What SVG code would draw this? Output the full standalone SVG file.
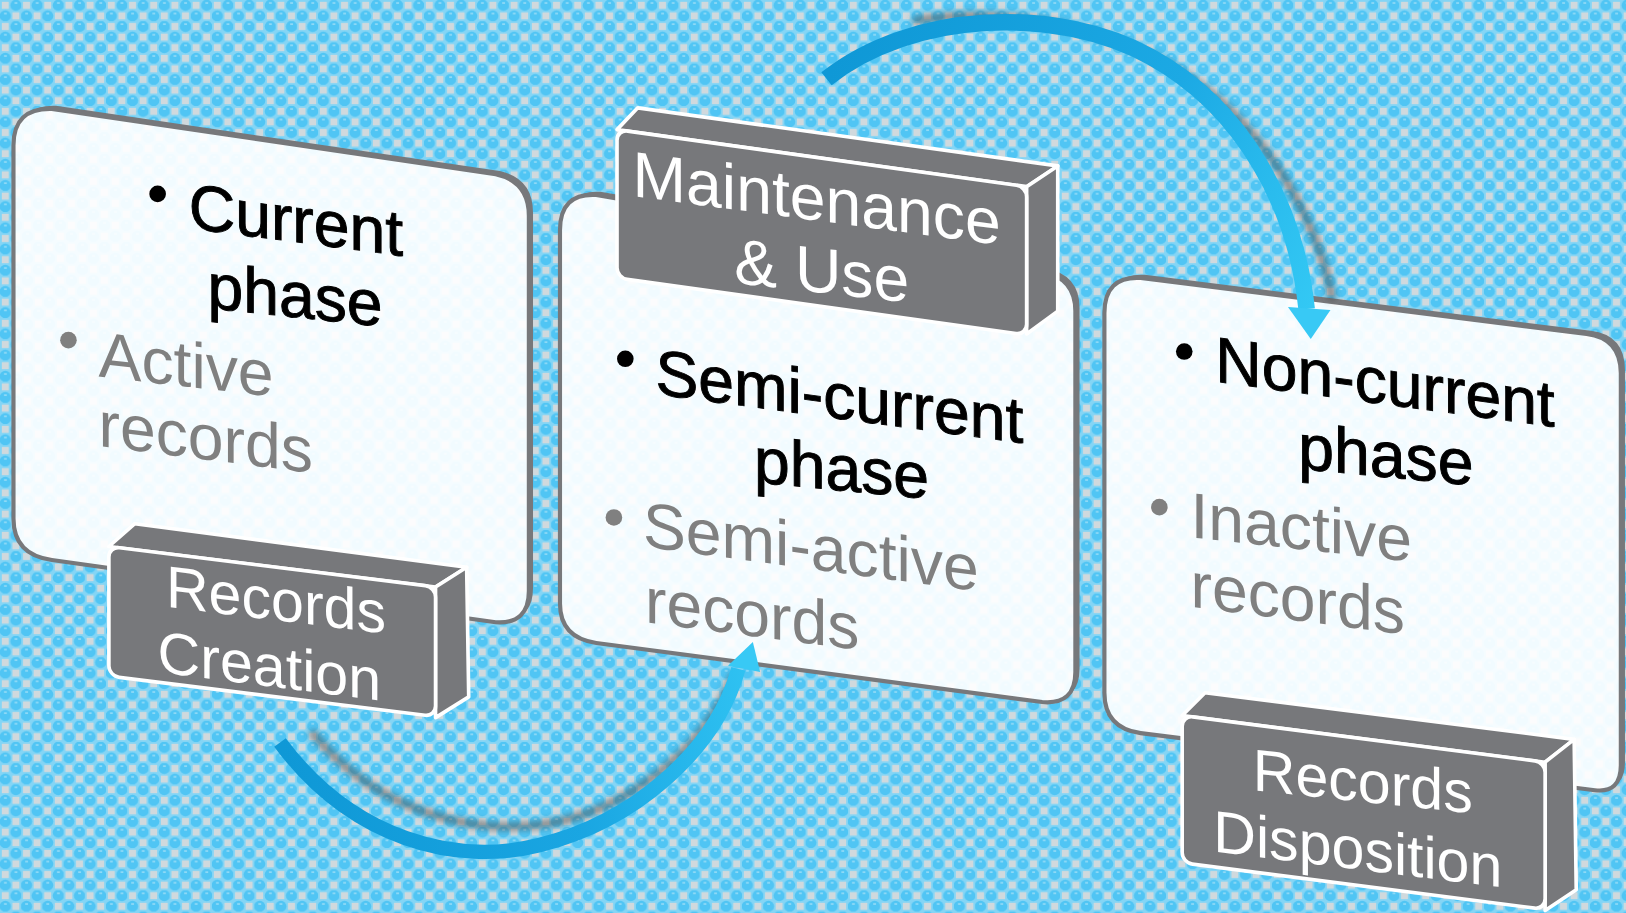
<svg xmlns="http://www.w3.org/2000/svg" width="1626" height="913" viewBox="0 0 1626 913">
<defs>
<pattern id="bg" width="21.2" height="21.2" patternUnits="userSpaceOnUse">
<rect width="21.2" height="21.2" fill="#84d5f5"/>
<circle cx="15.9" cy="5.3" r="5.6" fill="#50c5f4"/>
<circle cx="5.3" cy="15.9" r="5.6" fill="#50c5f4"/>
<rect x="14.6" y="2.4" width="2.8" height="1.1" fill="#b5e6f8"/>
<rect x="4" y="13" width="2.8" height="1.1" fill="#b5e6f8"/>
<rect x="1.8" y="1.8" width="7" height="7" fill="#d0d9dd"/>
<rect x="12.4" y="12.4" width="7" height="7" fill="#d0d9dd"/>
</pattern>
<filter id="blur" x="-20%" y="-20%" width="140%" height="140%"><feGaussianBlur stdDeviation="3"/></filter>
<linearGradient id="gA" gradientUnits="userSpaceOnUse" x1="272" y1="720" x2="720" y2="640">
<stop offset="0" stop-color="#0f98d6"/><stop offset="0.6" stop-color="#1aa6e2"/><stop offset="1" stop-color="#2fc2f2"/>
</linearGradient>
<linearGradient id="gB" gradientUnits="userSpaceOnUse" x1="797" y1="76" x2="1262" y2="300">
<stop offset="0" stop-color="#0f98d6"/><stop offset="0.6" stop-color="#1ca9e4"/><stop offset="1" stop-color="#33c8f4"/>
</linearGradient>
<style>
.under{fill:url(#bg)}
.face{fill:#ffffff;fill-opacity:0.92;stroke:#77787b;stroke-width:4;stroke-linejoin:round}
.depth{fill:#77787b}
.box{fill:#77787b;stroke:#ffffff;stroke-width:3.5;stroke-linejoin:round}
.t{font-family:"Liberation Sans",Arial,sans-serif;font-size:62px}
.b{fill:#000;stroke:#000;stroke-width:0.9}
.g{fill:#808080}
.w{font-family:"Liberation Sans",Arial,sans-serif;fill:#ffffff;font-size:57px}
.shadow{fill:none;stroke:#4a4a4a;stroke-opacity:0.55;stroke-width:8;filter:url(#blur)}
.arrow{fill:none;stroke-width:14}
</style>
<path id="c1" d="M13,140 Q13,104 50,105 L478,168 Q510,175 510,208 L510,570 Q510,602 478,600 L50,540 Q13,535 13,500 Z"/>
<path id="c2" d="M540,222 Q540,186 575,188 L1005,262 Q1037,268 1037,300 L1037,648 Q1037,680 1005,677 L575,620 Q540,615 540,582 Z"/>
<path id="c3" d="M1065,302 Q1065,266 1100,268 L1530,322 Q1563,326 1563,360 L1563,738 Q1563,765 1538,762 L1100,707 Q1065,702 1065,668 Z"/>
</defs>
<rect width="1626" height="913" fill="url(#bg)"/>
<g transform="scale(1.037)">
<g id="card1">
<use href="#c1" class="depth" transform="translate(4,-3)"/>
<use href="#c1" class="under"/>
<use href="#c1" class="face"/>
<circle cx="152" cy="187" r="8" fill="#000"/>
<text class="t b" transform="translate(182,220) skewY(7.4)">Current</text>
<text class="t b" transform="translate(200,297) skewY(6)">phase</text>
<circle cx="66" cy="328" r="8" fill="#808080"/>
<text class="t g" transform="translate(95,363) skewY(6.6)">Active</text>
<text class="t g" transform="translate(95,430) skewY(7.2)">records</text>
<g id="box-creation">
<path class="box" d="M105,527 L130,505 L450,547 L420,566 Z"/>
<path class="box" d="M420,566 L450,547 L452,672 L420,692 Z"/>
<rect class="box" transform="translate(105,527) skewY(7.06)" width="315" height="125" rx="10"/>
<text class="w" transform="translate(160,585) skewY(7)">Records</text>
<text class="w" transform="translate(152,648) skewY(7.3)">Creation</text>
</g>
</g>
<g id="card2">
<use href="#c2" class="depth" transform="translate(4,-3)"/>
<use href="#c2" class="under"/>
<use href="#c2" class="face"/>
<circle cx="603" cy="346" r="8" fill="#000"/>
<text class="t b" transform="translate(632,380) skewY(7.6)">Semi-current</text>
<text class="t b" transform="translate(727,465) skewY(5.4)">phase</text>
<circle cx="592" cy="499" r="8" fill="#808080"/>
<text class="t g" transform="translate(620,527) skewY(7.6)">Semi-active</text>
<text class="t g" transform="translate(622,600) skewY(7.4)">records</text>
<g id="box-maintenance">
<path class="box" d="M595,125 L615,104 L1020,160 L990,180 Z"/>
<path class="box" d="M990,180 L1020,160 L1020,300 L990,322 Z"/>
<rect class="box" transform="translate(595,125) skewY(7.93)" width="395" height="143" rx="10"/>
<text class="w" style="font-size:62px" transform="translate(610,189) skewY(7.6)">Maintenance</text>
<text class="w" style="font-size:62px" transform="translate(708,273) skewY(6.3)">&amp; Use</text>
</g>
</g>
<g id="card3">
<use href="#c3" class="depth" transform="translate(4,-3)"/>
<use href="#c3" class="under"/>
<use href="#c3" class="face"/>
<circle cx="1142" cy="339" r="8" fill="#000"/>
<text class="t b" transform="translate(1172,368) skewY(7.6)">Non-current</text>
<text class="t b" transform="translate(1252,452) skewY(5.4)">phase</text>
<circle cx="1118" cy="489" r="8" fill="#808080"/>
<text class="t g" transform="translate(1148,518) skewY(6.3)">Inactive</text>
<text class="t g" transform="translate(1148,585) skewY(7.4)">records</text>
<g id="box-disposition">
<path class="box" d="M1140,690 L1162,668 L1518,713 L1490,735 Z"/>
<path class="box" d="M1490,735 L1518,713 L1520,858 L1490,878 Z"/>
<rect class="box" transform="translate(1140,690) skewY(7.33)" width="350" height="142" rx="10"/>
<text class="w" transform="translate(1208,762) skewY(6)">Records</text>
<text class="w" transform="translate(1170,821) skewY(7.1)">Disposition</text>
</g>
</g>
<g id="connectors">
<path class="shadow" d="M300,705 C360,780 450,805 525,795 C605,782 680,722 708,650"/>
<path class="arrow" stroke="url(#gA)" d="M270,716 C340,810 440,835 520,815 C610,793 690,725 712,645"/>
<polygon points="726,619 702,642 733,648" fill="#38c9f5"/>
<path class="shadow" d="M880,20 C1000,2 1120,40 1190,110 C1240,160 1275,230 1285,290"/>
<path class="arrow" stroke="url(#gB)" style="stroke-width:16" d="M797,76 C880,10 1020,5 1110,55 C1200,105 1250,200 1260,298"/>
<polygon points="1264,327 1242,296 1283,299" fill="#38c9f5"/>
</g>
</g>
</svg>
